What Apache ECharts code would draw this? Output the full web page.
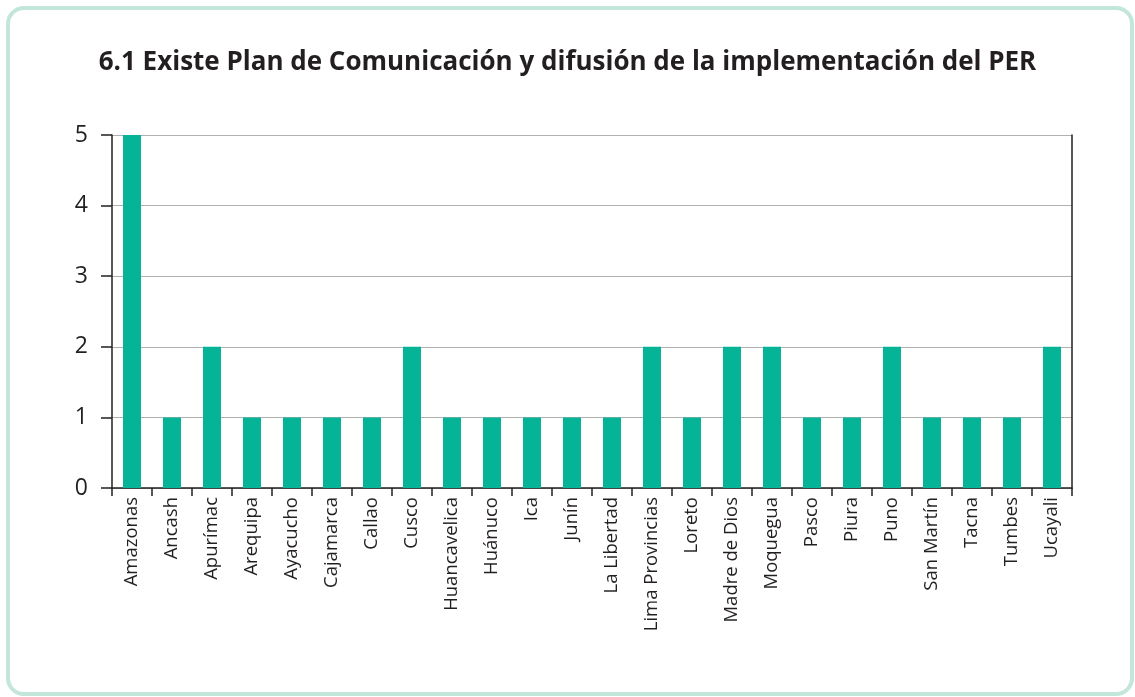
<!DOCTYPE html>
<html>
<head>
<meta charset="utf-8">
<script src="https://cdn.jsdelivr.net/npm/echarts@6/dist/echarts.min.js"></script>
<style>
  html, body { margin: 0; padding: 0; background: #fff; }
  #chart { width: 1135px; height: 697px; }
</style>
</head>
<body>
<div id="chart"></div>
<script>
const regiones = ['Amazonas', 'Ancash', 'Apurímac', 'Arequipa', 'Ayacucho', 'Cajamarca', 'Callao', 'Cusco',
  'Huancavelica', 'Huánuco', 'Ica', 'Junín', 'La Libertad', 'Lima Provincias', 'Loreto', 'Madre de Dios',
  'Moquegua', 'Pasco', 'Piura', 'Puno', 'San Martín', 'Tacna', 'Tumbes', 'Ucayali'];
const valores = [5, 1, 2, 1, 1, 1, 1, 2, 1, 1, 1, 1, 1, 2, 1, 2, 2, 1, 1, 2, 1, 1, 1, 2];

const chart = echarts.init(document.getElementById('chart'));

const option = {
  animation: false,
  textStyle: { fontFamily: 'Open Sans' },
  title: {
    text: '6.1 Existe Plan de Comunicación y difusión de la implementación del PER',
    left: 'center',
    top: 45,
    textStyle: { fontFamily: 'Open Sans', fontSize: 26, fontWeight: 'bold', color: '#231f20' }
  },
  graphic: [{
    type: 'rect',
    shape: { x: 8, y: 8, width: 1124, height: 686, r: 16 },
    style: { fill: 'none', stroke: '#c3e6db', lineWidth: 4 },
    silent: true
  }],
  grid: { left: 112, right: 63, top: 135, bottom: 209 },
  xAxis: {
    type: 'category',
    data: regiones,
    axisLine: { lineStyle: { color: '#231f20', width: 1.5 } },
    axisTick: { show: true, alignWithLabel: false, length: 8, lineStyle: { color: '#231f20', width: 1.5 } },
    axisLabel: { rotate: 90, margin: 9, fontSize: 18.5, color: '#231f20', interval: 0 }
  },
  yAxis: [{
    type: 'value',
    min: 0,
    max: 5,
    interval: 1,
    axisLine: { show: true, lineStyle: { color: '#231f20', width: 1.5 } },
    axisTick: { show: true, length: 11, lineStyle: { color: '#231f20', width: 1.5 } },
    axisLabel: { fontSize: 23, color: '#231f20', margin: 24 },
    splitLine: { lineStyle: { color: '#b0b0b0', width: 1.2 } }
  }, {
    type: 'value',
    min: 0,
    max: 5,
    interval: 1,
    position: 'right',
    axisLine: { show: true, lineStyle: { color: '#231f20', width: 1.5 } },
    axisTick: { show: false },
    axisLabel: { show: false },
    splitLine: { show: false }
  }],
  series: [{
    type: 'bar',
    data: valores,
    barWidth: '45%',
    itemStyle: { color: '#05b497' }
  }]
};

chart.setOption(option);
</script>
</body>
</html>
